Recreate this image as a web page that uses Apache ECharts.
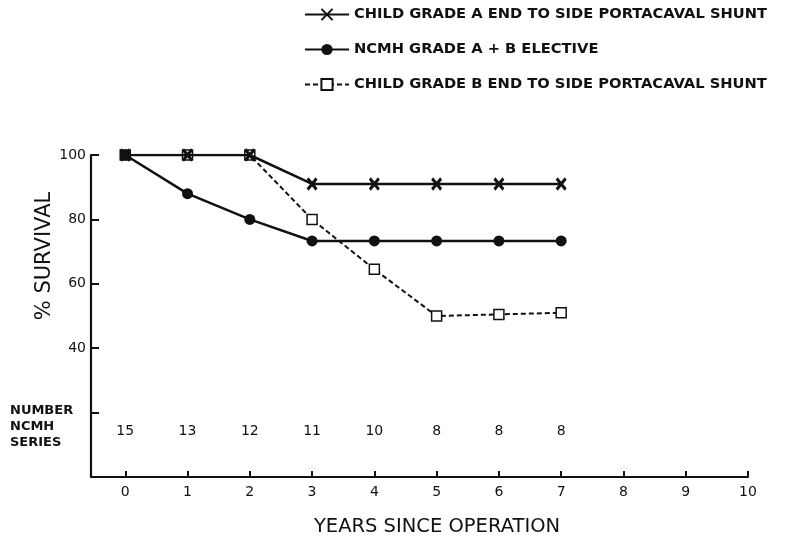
<!DOCTYPE html>
<html><head><meta charset="utf-8">
<script src="https://cdn.jsdelivr.net/npm/echarts@6/dist/echarts.min.js"></script>
<style>html,body{margin:0;padding:0;background:#fff}#c{width:789px;height:542px}</style>
</head><body><div id="c"></div>
<script>
var years = [0, 1, 2, 3, 4, 5, 6, 7];
var childA = [100, 100, 100, 91, 91, 91, 91, 91];
var ncmh = [100, 88, 80, 73.3, 73.3, 73.3, 73.3, 73.3];
var childB = [100, 100, 100, 80, 64.5, 50, 50.5, 51];
var ncmhNumbers = [15, 13, 12, 11, 10, 8, 8, 8];
var xTicks = [0, 1, 2, 3, 4, 5, 6, 7, 8, 9, 10];
var yTicks = [20, 40, 60, 80, 100];
var yLabels = [40, 60, 80, 100];
var seriesNames = ['CHILD GRADE A END TO SIDE PORTACAVAL SHUNT', 'NCMH GRADE A + B ELECTIVE', 'CHILD GRADE B END TO SIDE PORTACAVAL SHUNT'];

function pairs(v) { return years.map(function (y, i) { return [y, v[i]]; }); }
var FONT = 'DejaVu Sans';
var chart = echarts.init(document.getElementById('c'));
chart.setOption({
  animation: false,
  backgroundColor: '#fff',
  grid: { left: 91, right: 41, top: 155, bottom: 65 },
  legend: {
    orient: 'vertical', left: 304, top: 7, padding: 0, itemWidth: 44, itemHeight: 14, itemGap: 20,
    textStyle: { fontFamily: FONT, fontWeight: 'bold', fontSize: 14.7, lineHeight: 14, color: '#111' },
    data: seriesNames
  },
  xAxis: {
    type: 'value', min: -0.55, max: 10,
    axisLine: { onZero: false, lineStyle: { color: '#111', width: 2.2 } },
    axisTick: { show: true, inside: true, length: 6, customValues: xTicks, lineStyle: { color: '#111', width: 2 } },
    axisLabel: { customValues: xTicks, margin: 8, fontFamily: FONT, fontSize: 14, color: '#111' },
    splitLine: { show: false }
  },
  yAxis: {
    type: 'value', min: 0, max: 100,
    axisLine: { onZero: false, lineStyle: { color: '#111', width: 2.2 } },
    axisTick: { show: true, inside: true, length: 8, customValues: yTicks, lineStyle: { color: '#111', width: 2 } },
    axisLabel: { customValues: yLabels, margin: 5, fontFamily: FONT, fontSize: 14, color: '#111' },
    splitLine: { show: false }
  },
  graphic: [
    { type: 'text', left: 10, top: 403, style: { text: 'NUMBER\nNCMH\nSERIES', font: 'bold 13px "DejaVu Sans"', lineHeight: 16, fill: '#111' } },
    { type: 'text', x: 45, y: 256, rotation: Math.PI / 2, style: { text: '% SURVIVAL', font: '21px "DejaVu Sans"', fill: '#111', align: 'center', verticalAlign: 'middle' } },
    { type: 'text', x: 437, y: 527, style: { text: 'YEARS SINCE OPERATION', font: '19.5px "DejaVu Sans"', fill: '#111', align: 'center', verticalAlign: 'middle' } }
  ],
  series: [
    {
      name: seriesNames[0], type: 'line', data: pairs(childA), z: 4,
      symbol: 'path://M0,0L10,10M10,0L0,10', symbolSize: [9, 11],
      lineStyle: { color: '#111', width: 2.5 },
      itemStyle: { color: '#111', borderColor: '#111', borderWidth: 3 }
    },
    {
      name: seriesNames[1], type: 'line', data: pairs(ncmh), z: 3,
      symbol: 'circle', symbolSize: 11,
      lineStyle: { color: '#111', width: 2.5 },
      itemStyle: { color: '#111', borderColor: '#111', borderWidth: 0 }
    },
    {
      name: seriesNames[2], type: 'line', data: pairs(childB), z: 2,
      symbol: 'rect', symbolSize: 10,
      lineStyle: { color: '#111', width: 2, type: [5, 3] },
      itemStyle: { color: '#fff', borderColor: '#111', borderWidth: 1.5 }
    },
    {
      type: 'scatter', silent: true, symbolSize: 0,
      itemStyle: { opacity: 1, color: '#111' },
      data: years.map(function (y, i) { return [y, 14.3, ncmhNumbers[i]]; }),
      label: { show: true, position: 'inside', formatter: function (p) { return String(p.value[2]); }, fontFamily: FONT, fontSize: 14, color: '#111', textBorderWidth: 0 }
    }
  ]
});
</script></body></html>
